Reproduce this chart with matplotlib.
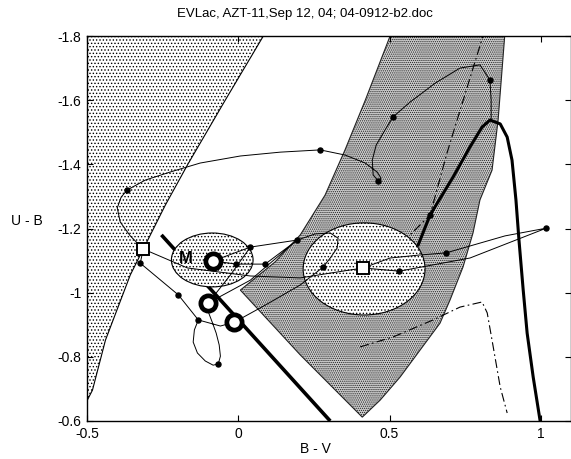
import matplotlib
matplotlib.use('Agg')
import matplotlib.pyplot as plt
from matplotlib.patches import Polygon, Ellipse

plt.rcParams['font.family'] = ['Liberation Sans', 'DejaVu Sans']
plt.rcParams['axes.unicode_minus'] = False
plt.rcParams['hatch.linewidth'] = 0.6

title = "EVLac, AZT-11,Sep 12, 04; 04-0912-b2.doc"
x_label = "B - V"
y_label = "U - B"
x_ticks = [-0.5, 0, 0.5, 1]
x_tick_labels = ["-0.5", "0", "0.5", "1"]
y_ticks = [-1.8, -1.6, -1.4, -1.2, -1.0, -0.8, -0.6]
y_tick_labels = ["-1.8", "-1.6", "-1.4", "-1.2", "-1", "-0.8", "-0.6"]

# left (sparse dotted) region boundary
left_bx = [0.115, 0.083, -0.043, -0.168, -0.241, -0.357, -0.439, -0.482, -0.499, -0.51, -0.6, -0.6]
left_by = [-1.85, -1.8, -1.60, -1.398, -1.273, -1.055, -0.852, -0.696, -0.665, -0.60, -0.55, -1.9]

# dense grey region
grey_x = [0.51, 0.885, 0.859, 0.839, 0.799, 0.776, 0.743, 0.700, 0.667, 0.601, 0.535,
          0.469, 0.410, 0.205, 0.007, 0.122, 0.205, 0.287, 0.353, 0.420, 0.502]
grey_y = [-1.85, -1.85, -1.538, -1.382, -1.289, -1.186, -1.080, -0.977, -0.905, -0.821, -0.737,
          -0.665, -0.612, -0.806, -1.008, -1.096, -1.180, -1.304, -1.445, -1.600, -1.80]

# ellipses (centre x, centre y, width, height)
ell_cx = [0.416, -0.086]
ell_cy = [-1.074, -1.102]
ell_w = [0.403, 0.270]
ell_h = [0.287, 0.168]

# thick straight line
thick_line_x = [-0.254, 0.304]
thick_line_y = [-1.180, -0.600]

# thick curve
thick_cx = [0.595, 0.634, 0.710, 0.766, 0.806, 0.832, 0.866, 0.889, 0.905, 0.918, 0.928, 0.942, 0.955, 0.975, 0.998]
thick_cy = [-1.149, -1.242, -1.360, -1.454, -1.516, -1.538, -1.526, -1.485, -1.413, -1.289, -1.164, -1.008, -0.874, -0.737, -0.600]

# dash-dot curves
dd1_x = [0.816, 0.809, 0.757, 0.690, 0.634, 0.568]
dd1_y = [-1.819, -1.8, -1.641, -1.435, -1.242, -1.180]
dd2_x = [0.403, 0.512, 0.644, 0.733, 0.806, 0.823, 0.839, 0.866, 0.889]
dd2_y = [-0.831, -0.862, -0.915, -0.955, -0.971, -0.937, -0.852, -0.706, -0.625]

# thin tracks
trA_x = [-0.324, -0.314, -0.357, -0.390, -0.400, -0.387, -0.367, -0.307, -0.225, -0.126, 0.007, 0.139,
         0.271, 0.353, 0.420, 0.459, 0.472, 0.463, 0.446, 0.443, 0.456, 0.489, 0.512, 0.568, 0.651,
         0.733, 0.799, 0.832, 0.836, 0.836]
trA_y = [-1.092, -1.136, -1.177, -1.220, -1.264, -1.298, -1.320, -1.351, -1.376, -1.404, -1.426, -1.438,
         -1.445, -1.429, -1.404, -1.376, -1.357, -1.348, -1.367, -1.413, -1.460, -1.513, -1.548, -1.594, -1.653,
         -1.700, -1.710, -1.663, -1.600, -1.538]
trA_dots = [0, 6, 12, 17, 22, 27]

trB_x = [-0.324, -0.198, -0.132, -0.145, -0.149, -0.135, -0.109, -0.083, -0.066, -0.059, -0.063, -0.073,
         -0.086, -0.099, -0.099, -0.026, 0.040, 0.195, 0.254, 0.304, 0.330, 0.327, 0.304, 0.281, 0.205,
         0.089, -0.013, -0.059, -0.132]
trB_y = [-1.092, -0.993, -0.915, -0.884, -0.846, -0.812, -0.787, -0.774, -0.778, -0.802, -0.837, -0.874,
         -0.908, -0.940, -0.968, -1.055, -1.142, -1.164, -1.183, -1.186, -1.170, -1.139, -1.108, -1.080, -1.024,
         -0.961, -0.908, -0.896, -0.915]
trB_dots = [1, 2, 8, 16, 17, 23]

trC_x = [0.040, -0.083, -0.007, 0.089, 0.195, 0.040, -0.099]
trC_y = [-1.142, -1.099, -1.089, -1.089, -1.164, -1.039, -0.968]
trC_dots = [2, 3]

trD_x = [-0.314, -0.168, 0.040, 0.205, 0.304, 0.413, 0.532, 0.766, 1.018, 0.882, 0.687, 0.595, 0.502, 0.413]
trD_y = [-1.136, -1.077, -1.052, -1.046, -1.061, -1.077, -1.067, -1.108, -1.201, -1.177, -1.124, -1.117, -1.108, -1.077]
trD_dots = [6, 8, 10]

ring_x = [-0.083, -0.099, -0.013]
ring_y = [-1.099, -0.968, -0.908]
square_x = [-0.314, 0.413]
square_y = [-1.136, -1.077]
label_M = "M"
label_M_pos = (-0.175, -1.108)

fig = plt.figure(figsize=(5.71, 4.59), dpi=100)
ax = fig.add_axes([87 / 571, 38 / 459, 484 / 571, 385 / 459])
ax.set_xlim(-0.5, 1.1)
ax.set_ylim(-0.6, -1.8)

ax.add_patch(Polygon(list(zip(left_bx, left_by)), closed=True, facecolor='white',
                     edgecolor='black', hatch='.....', linewidth=0.8, zorder=1))
ax.add_patch(Polygon(list(zip(grey_x, grey_y)), closed=True, facecolor='#cccccc',
                     edgecolor='#222222', hatch='........', linewidth=0.8, zorder=1))

ax.plot(thick_line_x, thick_line_y, color='black', linewidth=2.6, solid_capstyle='butt', zorder=2)

for cx, cy, w, h in zip(ell_cx, ell_cy, ell_w, ell_h):
    ax.add_patch(Ellipse((cx, cy), w, h, facecolor='white', edgecolor='black',
                         hatch='.....', linewidth=0.8, zorder=3))

ax.plot(thick_cx, thick_cy, color='black', linewidth=2.2, zorder=4)
ax.plot(dd1_x, dd1_y, color='black', linewidth=0.8, linestyle=(0, (8, 3, 1.5, 3)), zorder=4)
ax.plot(dd2_x, dd2_y, color='black', linewidth=0.8, linestyle=(0, (8, 3, 1.5, 3)), zorder=4)

for tx, ty, dots in [(trA_x, trA_y, trA_dots), (trB_x, trB_y, trB_dots),
                     (trC_x, trC_y, trC_dots), (trD_x, trD_y, trD_dots)]:
    ax.plot(tx, ty, color='black', linewidth=0.7, zorder=5)
    ax.plot([tx[i] for i in dots], [ty[i] for i in dots], 'o', color='black',
            markersize=3.6, zorder=6)
ax.plot([thick_cx[1]], [thick_cy[1]], 'o', color='black', markersize=3.6, zorder=6)

ax.plot(ring_x, ring_y, 'o', markerfacecolor='white', markeredgecolor='black',
        markersize=11, markeredgewidth=3.4, linestyle='none', zorder=7)
ax.plot(square_x, square_y, 's', markerfacecolor='white', markeredgecolor='black',
        markersize=8.5, markeredgewidth=1.4, linestyle='none', zorder=7)
ax.text(label_M_pos[0], label_M_pos[1], label_M, fontsize=12, fontweight='bold',
        ha='center', va='center', zorder=8)

ax.set_xticks(x_ticks)
ax.set_xticklabels(x_tick_labels)
ax.set_yticks(y_ticks)
ax.set_yticklabels(y_tick_labels)
ax.tick_params(direction='in', length=4, width=0.8, top=True, right=True, labelsize=10, pad=4)
for s in ax.spines.values():
    s.set_linewidth(1.0)
    s.set_zorder(10)

fig.text(305 / 571, 1 - 14 / 459, title, fontsize=9.5, ha='center', va='center')
fig.text(315 / 571, 1 - 449 / 459, x_label, fontsize=10, ha='center', va='center')
fig.text(27 / 571, 1 - 221 / 459, y_label, fontsize=10, ha='center', va='center')

fig.savefig('out.png', dpi=100)
